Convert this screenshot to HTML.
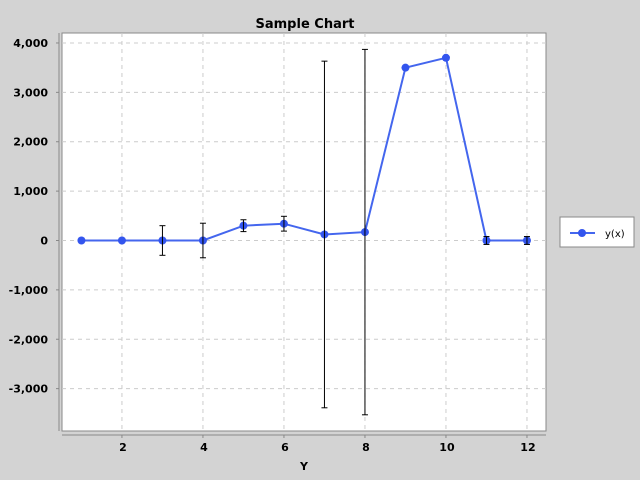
<!DOCTYPE html>
<html><head><meta charset="utf-8"><style>
body{margin:0;background:#d3d3d3;}
svg{display:block;font-family:"DejaVu Sans","Liberation Sans",sans-serif;}
</style></head><body>
<svg id="chart" width="640" height="480">
<rect width="640" height="480" fill="#d3d3d3"/>
<text x="305" y="28" text-anchor="middle" font-size="13" font-weight="bold">Sample Chart</text>
<rect x="62" y="33" width="484" height="398" fill="#fff" stroke="#888"/>
<g id="grid"></g><g id="axes"></g><g id="series"></g>
<text x="304" y="470" text-anchor="middle" font-size="11" font-weight="bold">Y</text>
<g>
<rect x="560" y="217" width="74" height="30" fill="#fff" stroke="#888"/>
<line x1="570" y1="233" x2="595" y2="233" stroke="#4466ee" stroke-width="2"/>
<circle cx="582" cy="233" r="4" fill="#3355ee"/>
<text x="605" y="237" font-size="10">y(x)</text>
</g>
</svg>
<script>
const xs=[1,2,3,4,5,6,7,8,9,10,11,12];
const ys=[0,0,0,0,300,340,122,170,3500,3700,0,0];
const errs=[0,0,300,350,120,150,3510,3700,0,0,80,80];
const xTicks=[2,4,6,8,10,12];
const yTicks=[4000,3000,2000,1000,0,-1000,-2000,-3000];
const L=62,R=546,T=33,B=431,xMin=0.52,xMax=12.47,yMin=-3858,yMax=4202;
const sx=v=>L+(v-xMin)/(xMax-xMin)*(R-L);
const sy=v=>B-(v-yMin)/(yMax-yMin)*(B-T);
const NS="http://www.w3.org/2000/svg";
function mk(t,a,p){const e=document.createElementNS(NS,t);for(const k in a)e.setAttribute(k,a[k]);p.appendChild(e);return e;}
const grid=document.getElementById('grid'),axes=document.getElementById('axes'),ser=document.getElementById('series');
mk('line',{x1:59,y1:T,x2:59,y2:B,stroke:'#888'},axes);
mk('line',{x1:L,y1:435,x2:R,y2:435,stroke:'#888'},axes);
xTicks.forEach(v=>{const x=sx(v);
const g=mk('line',{x1:x,y1:T,x2:x,y2:B,stroke:'#ccc','stroke-dasharray':'4,4'},grid);

mk('line',{x1:x,y1:435,x2:x,y2:438,stroke:'#888'},axes);
const t=mk('text',{x:x+1,y:451,'text-anchor':'middle','font-size':'11','font-weight':'bold'},axes);t.textContent=v;
});
yTicks.forEach(v=>{const y=sy(v);
const g=mk('line',{x1:L,y1:y,x2:R,y2:y,stroke:'#ccc','stroke-dasharray':'4,4'},grid);

mk('line',{x1:56,y1:y,x2:59,y2:y,stroke:'#888'},axes);
const t=mk('text',{x:48,y:y+4,'text-anchor':'end','font-size':'11','font-weight':'bold'},axes);t.textContent=v.toLocaleString('en-US');
});
const line=mk('polyline',{points:xs.map((x,i)=>sx(x)+','+sy(ys[i])).join(' '),fill:'none',stroke:'#4466ee','stroke-width':2},ser);

xs.forEach((x,i)=>{const cx=sx(x),cy=sy(ys[i]);
const c=mk('circle',{cx:cx,cy:cy,r:4,fill:'#3355ee'},ser);

if(errs[i]>0){const t=sy(ys[i]+errs[i]),b=sy(ys[i]-errs[i]);
const g=mk('g',{stroke:'#000','stroke-width':1},ser);

mk('line',{x1:cx,y1:t,x2:cx,y2:b},g);mk('line',{x1:cx-3,y1:t,x2:cx+3,y2:t},g);mk('line',{x1:cx-3,y1:b,x2:cx+3,y2:b},g);}});
</script>
</body></html>
